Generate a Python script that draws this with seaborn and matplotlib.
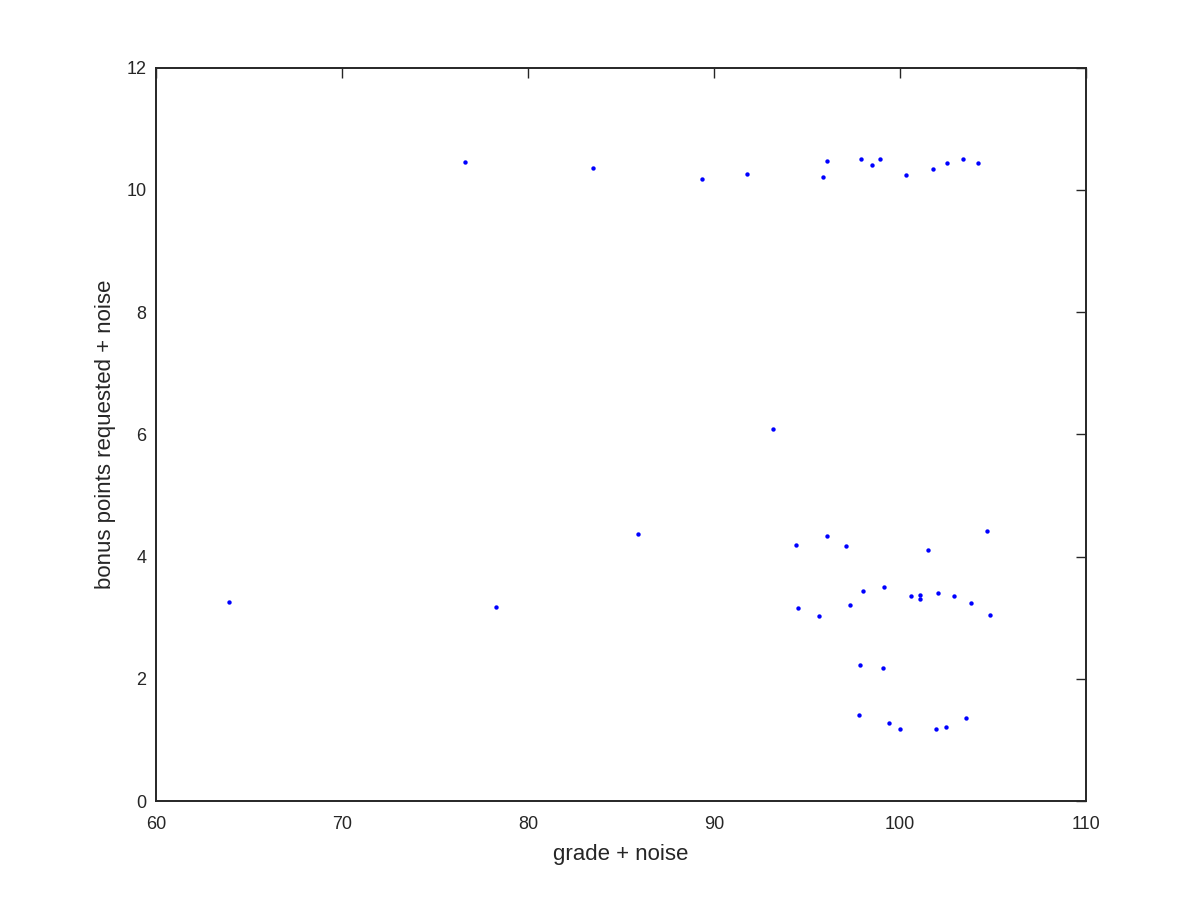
import matplotlib
matplotlib.use("Agg")
import matplotlib.pyplot as plt
import seaborn as sns
import pandas as pd

# points (grade + noise, bonus points requested + noise)
grade = [
    76.6, 83.5, 89.35, 91.8, 95.85, 96.1, 97.9, 98.5, 98.9, 100.3, 101.8, 102.5, 103.4, 104.2,
    93.15,
    63.9, 78.3, 85.9, 94.4, 96.1, 97.1, 101.5, 104.7,
    94.5, 95.65, 97.3, 98.0, 99.15, 100.6, 101.05, 101.1, 102.05, 102.9, 103.8, 104.85,
    97.85, 99.1,
    97.8, 99.4, 100.0, 101.95, 102.45, 103.55,
]
bonus = [
    10.45, 10.36, 10.18, 10.25, 10.21, 10.47, 10.51, 10.41, 10.51, 10.24, 10.34, 10.43, 10.51, 10.44,
    6.09,
    3.26, 3.18, 4.37, 4.18, 4.33, 4.17, 4.11, 4.42,
    3.16, 3.03, 3.20, 3.43, 3.50, 3.36, 3.37, 3.31, 3.41, 3.36, 3.24, 3.04,
    2.22, 2.17,
    1.41, 1.28, 1.18, 1.17, 1.21, 1.35,
]

xticks = [60, 70, 80, 90, 100, 110]
yticks = [0, 2, 4, 6, 8, 10, 12]

df = pd.DataFrame({"grade": grade, "bonus": bonus})

sns.set_theme(style="white")
plt.rcParams["font.family"] = ["Liberation Sans", "DejaVu Sans"]

fig = plt.figure(figsize=(12, 9), dpi=100)
ax = fig.add_axes([0.13, 0.11, 0.775, 0.815])

sns.scatterplot(data=df, x="grade", y="bonus", ax=ax, color="#0000ff",
                marker="o", s=10, linewidth=0)

ax.set_xlim(60, 110)
ax.set_ylim(0, 12)
ax.set_xticks(xticks)
ax.set_yticks(yticks)
ax.set_xlabel("grade + noise", fontsize=16, color="#262626", labelpad=8)
ax.set_ylabel("bonus points requested + noise", fontsize=16, color="#262626", labelpad=7)
ax.tick_params(direction="in", length=7, width=1, top=True, right=True,
               labelsize=13, colors="#262626")
ax.tick_params(axis="x", pad=11)
ax.tick_params(axis="y", pad=7)
for sp in ax.spines.values():
    sp.set_visible(True)
    sp.set_color("#262626")
    sp.set_linewidth(1.4)

fig.savefig("out.png", dpi=100, facecolor="white")
